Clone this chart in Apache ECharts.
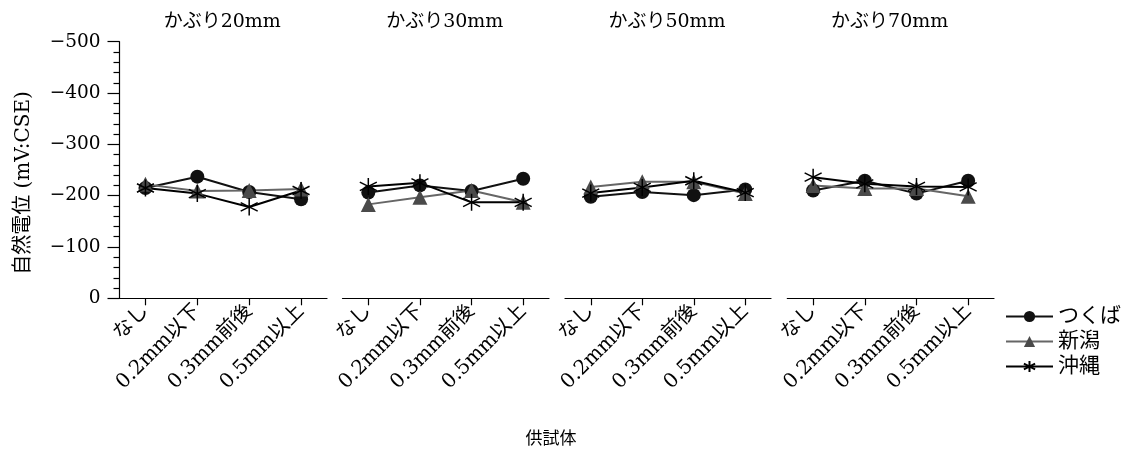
<!DOCTYPE html>
<html>
<head>
<meta charset="utf-8">
<script src="https://cdn.jsdelivr.net/npm/echarts@6/dist/echarts.min.js"></script>
<style>
  html, body { margin: 0; padding: 0; background: #fff; }
  #chart { width: 1129px; height: 453px; }
</style>
</head>
<body>
<div id="chart"></div>
<script>
// Crack width categories (x axis of every panel)
const categories = ['なし', '0.2mm以下', '0.3mm前後', '0.5mm以上'];
// Cover depth of each panel
const panelTitles = ['かぶり20mm', 'かぶり30mm', 'かぶり50mm', 'かぶり70mm'];
// Exposure sites
const siteNames = ['つくば', '新潟', '沖縄'];
// Half-cell potential (mV vs CSE), one row per cover depth
const tsukuba = [
  [-215, -237, -207, -193],
  [-206, -220, -209, -233],
  [-198, -207, -201, -212],
  [-210, -229, -204, -229]
];
const niigata = [
  [-222, -209, -210, -213],
  [-183, -197, -210, -187],
  [-217, -227, -227, -204],
  [-220, -214, -214, -199]
];
const okinawa = [
  [-215, -204, -178, -210],
  [-218, -225, -187, -187],
  [-205, -216, -229, -206],
  [-236, -223, -218, -217]
];
// Potential axis range and step
const yMin = -500, yMax = 0, yStep = 100;

const FONT = "'DejaVu Serif', 'Noto Sans CJK JP', serif";
const siteData = [tsukuba, niigata, okinawa];

// Six-armed asterisk marker
const asterisk = 'path://M0,-10L0,10M-8.66,-5L8.66,5M-8.66,5L8.66,-5';

const siteStyle = [
  { symbol: 'circle', symbolSize: 14, color: '#111', line: '#111', border: 0 },
  { symbol: 'triangle', symbolSize: 15, color: '#4a4a4a', line: '#666', border: 0 },
  { symbol: asterisk, symbolSize: 17, color: 'rgba(0,0,0,0)', line: '#000', border: 1.5 }
];

const gridBoxes = [
  { left: 119.5, width: 207.5 },
  { left: 342.5, width: 206.5 },
  { left: 565, width: 206 },
  { left: 787.3, width: 206.7 }
];
const gridTop = 41.7, gridHeight = 256.6;

const grids = [], xAxes = [], yAxes = [], series = [], titles = [];

gridBoxes.forEach((g, i) => {
  grids.push({ left: g.left, width: g.width, top: gridTop, height: gridHeight, containLabel: false });
  xAxes.push({
    type: 'category', gridIndex: i, data: categories, boundaryGap: true,
    axisLine: { show: true, lineStyle: { color: '#000', width: 1.2 } },
    axisTick: { show: true, alignWithLabel: true, length: 7, lineStyle: { color: '#000', width: 1.2 } },
    axisLabel: { rotate: 45, margin: 10, color: '#000', fontSize: 20, fontFamily: FONT, interval: 0 },
    splitLine: { show: false }
  });
  const yAx = {
    type: 'value', gridIndex: i, min: yMin, max: yMax, interval: yStep, inverse: true,
    splitLine: { show: false }
  };
  if (i === 0) {
    Object.assign(yAx, {
      show: true,
      name: '自然電位 (mV:CSE)', nameLocation: 'middle', nameRotate: 90, nameGap: 86,
      nameTextStyle: { color: '#000', fontSize: 20, fontFamily: FONT, padding: [0, 26, 0, 0] },
      axisLine: { show: true, lineStyle: { color: '#000', width: 1.2 } },
      axisTick: { show: true, length: 12, lineStyle: { color: '#000', width: 1.2 } },
      minorTick: { show: true, splitNumber: 5, length: 6, lineStyle: { color: '#000', width: 1.2 } },
      axisLabel: {
        margin: 19, color: '#000', fontSize: 18.5, fontFamily: FONT,
        formatter: v => String(v).replace('-', '\u2212')
      }
    });
  } else {
    yAx.show = false;
  }
  yAxes.push(yAx);

  titles.push({
    text: panelTitles[i], left: g.left + g.width / 2 - 6, top: 8, textAlign: 'center',
    textStyle: { color: '#000', fontSize: 19, fontWeight: 'normal', fontFamily: FONT }
  });

  siteNames.forEach((name, s) => {
    const st = siteStyle[s];
    series.push({
      name, type: 'line', xAxisIndex: i, yAxisIndex: i,
      data: siteData[s][i],
      symbol: st.symbol, symbolSize: st.symbolSize,
      showAllSymbol: true,
      lineStyle: { color: st.line, width: 2 },
      itemStyle: { color: st.color, borderColor: st.border ? '#000' : st.color, borderWidth: st.border, opacity: 1 },
      emphasis: { disabled: true },
      animation: false
    });
  });
});

// x-axis caption shared by all panels
titles.push({
  text: '供試体', left: 546, top: 426, textAlign: 'center',
  textStyle: { color: '#000', fontSize: 17, fontWeight: 'normal', fontFamily: FONT }
});

const chart = echarts.init(document.getElementById('chart'), null, { renderer: 'canvas' });
chart.setOption({
  animation: false,
  backgroundColor: '#fff',
  title: titles,
  grid: grids,
  xAxis: xAxes,
  yAxis: yAxes,
  legend: {
    data: siteNames, orient: 'vertical', left: 1000, top: 301,
    itemWidth: 47, itemHeight: 14, itemGap: 4,
    textStyle: { color: '#000', fontSize: 21, fontFamily: FONT },
    selectedMode: false
  },
  series
});
</script>
</body>
</html>
